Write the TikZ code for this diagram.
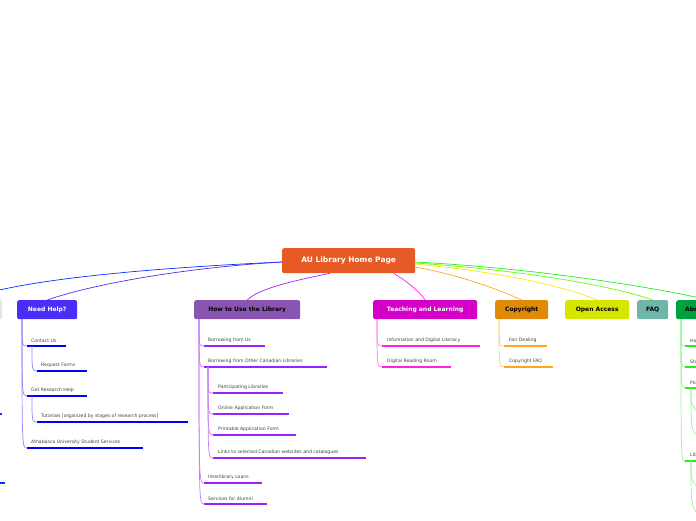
\documentclass[tikz,border=0pt]{standalone}
\usepackage{fontspec}
\setmainfont{DejaVu Sans}
\definecolor{nhc}{HTML}{4A2EF5}
\definecolor{huc}{HTML}{8A55B0}
\definecolor{hul}{HTML}{9A22FF}
\definecolor{tlc}{HTML}{D400C8}
\definecolor{tll}{HTML}{FF22E6}
\definecolor{crc}{HTML}{E08A0A}
\definecolor{crl}{HTML}{FFA522}
\definecolor{oac}{HTML}{D6E600}
\definecolor{fqc}{HTML}{6FB5AA}
\definecolor{abc}{HTML}{00A040}
\definecolor{abl}{HTML}{22EE22}
\definecolor{rtc}{HTML}{E85A25}
\begin{document}
\begin{tikzpicture}[x=1pt,y=-1pt,
 topic/.style={rounded corners=2pt,minimum height=19pt,inner sep=0pt,font=\bfseries\fontsize{6}{6}\selectfont,anchor=north west},
 item/.style={font=\fontsize{4.6}{5}\selectfont,anchor=south west,inner sep=0pt,text=black!75},
 ul/.style={line width=1.6pt},
 conn/.style={line width=0.7pt}]
\useasboundingbox (0,0) rectangle (696,520);
\begin{scope}
\clip (0,0) rectangle (696,520);
% root
\node[topic,fill=rtc,text=white,minimum width=133pt,minimum height=25pt,font=\bfseries\fontsize{7.5}{8}\selectfont] (root) at (282,248) {AU Library Home Page};
% topics
\node[topic,fill=black!10,minimum width=20pt] (lt) at (-18,300) {};
\node[topic,fill=nhc,text=white,minimum width=60pt] (nh) at (17,300) {Need Help?};
\node[topic,fill=huc,text=black,minimum width=106pt] (hu) at (194,300) {How to Use the Library};
\node[topic,fill=tlc,text=white,minimum width=104pt] (tl) at (373,300) {Teaching and Learning};
\node[topic,fill=crc,text=black,minimum width=53pt] (cr) at (495,300) {Copyright};
\node[topic,fill=oac,text=black,minimum width=64pt] (oa) at (565,300) {Open Access};
\node[topic,fill=fqc,text=black,minimum width=31pt] (fq) at (637,300) {FAQ};
\node[topic,fill=abc,text=black,minimum width=50pt,align=left,text width=44pt] (ab) at (676,300) {\hspace*{6pt}About};
% connectors from root
\coordinate (rl) at (282,262); \coordinate (rr) at (415,262);
\draw[conn,blue!80!cyan] (rl) .. controls (150,268) and (50,278) .. (-5,291);
\draw[conn,nhc] (rl) .. controls (180,268) and (90,285) .. (nh.north);
\draw[conn,hul] (root.south west) ++(48,0) .. controls (270,285) and (255,293) .. (hu.north);
\draw[conn,tll] (root.south) ++(45,0) .. controls (405,280) and (418,290) .. (tl.north);
\draw[conn,crl] (415,267) .. controls (460,275) and (500,290) .. (cr.north);
\draw[conn,yellow!90!orange] (415,264) .. controls (500,272) and (560,285) .. (oa.north);
\draw[conn,green!60!yellow] (415,263) .. controls (520,270) and (610,285) .. (fq.north);
\draw[conn,abl] (rr) .. controls (530,268) and (640,285) .. (700,298);
% left stubs
\draw[ul,blue!80!cyan] (-5,414) -- (2,414);
\draw[ul,blue!80!cyan] (-5,483) -- (5,483);
% Need help items
\begin{scope}[blue]
\foreach \t/\x/\y/\e/\n in {Contact Us/27/346/66/a,Get Research Help/27/396/87/b,Athabasca University Student Services/27/448/143/c}{
 \draw[ul] (\x,\y) -- (\e,\y); \node[item] (nh\n) at (\x+4,\y-3) {\t};
 \draw[conn,nhc!60] (22,319) .. controls (22,\y) .. (\x,\y);}
\foreach \t/\y/\e/\n/\p in {Request Forms/371/87/d/346,{Tutorials [organized by stages of research process]}/422/188/e/396}{
 \draw[ul] (37,\y) -- (\e,\y); \node[item] (nh\n) at (41,\y-3) {\t};
 \draw[conn,nhc!60] (32,\p) .. controls (32,\y) .. (37,\y);}
\end{scope}
% How to use
\begin{scope}[hul]
\foreach \t/\y/\e/\n in {Borrowing from Us/346/265/a,Borrowing from Other Canadian Libraries/367/327/b,Interlibrary Loans/483/262/c,Services for Alumni/504/267/d}{
 \draw[ul] (204,\y) -- (\e,\y); \node[item] (hu\n) at (208,\y-3) {\t};
 \draw[conn,hul!60] (199,319) .. controls (199,\y) .. (204,\y);}
\foreach \t/\y/\e/\n in {Participating Libraries/393/283/e,Online Application Form/414/289/f,Printable Application Form/435/296/g,Links to selected Canadian websites and catalogues/458/366/h}{
 \draw[ul] (213,\y) -- (\e,\y); \node[item] (hu\n) at (218,\y-3) {\t};
 \draw[conn,hul!60] (208,367) .. controls (208,\y) .. (213,\y);}
\end{scope}
% Teaching
\begin{scope}[tll]
\foreach \t/\y/\e/\n in {Information and Digital Literacy/346/480/a,Digital Reading Room/367/451/b}{
 \draw[ul] (382,\y) -- (\e,\y); \node[item] (tl\n) at (387,\y-3) {\t};
 \draw[conn,tll!60] (377,319) .. controls (377,\y) .. (382,\y);}
\end{scope}
% Copyright
\begin{scope}[crl]
\foreach \t/\y/\e/\n in {Fair Dealing/346/547/a,Copyright FAQ/367/553/b}{
 \draw[ul] (504,\y) -- (\e,\y); \node[item] (cr\n) at (509,\y-3) {\t};
 \draw[conn,crl!60] (499,319) .. controls (499,\y) .. (504,\y);}
\end{scope}
% About
\begin{scope}[abl]
\foreach \t/\y/\n in {How/346/a,Staff/367/b,Policies/388/c,Library/461/d}{
 \draw[ul] (685,\y) -- (700,\y); \node[item] (ab\n) at (690,\y-3) {\t};
 \draw[conn,abl!50] (681,319) .. controls (681,\y) .. (685,\y);}
\draw[conn,abl!50] (691,388) .. controls (691,405) .. (698,412);
\draw[conn,abl!50] (691,388) .. controls (691,430) .. (698,436);
\draw[conn,abl!50] (691,461) .. controls (691,480) .. (698,488);
\draw[conn,abl!50] (691,461) .. controls (691,505) .. (698,515);
\end{scope}
\end{scope}
\end{tikzpicture}
\end{document}
